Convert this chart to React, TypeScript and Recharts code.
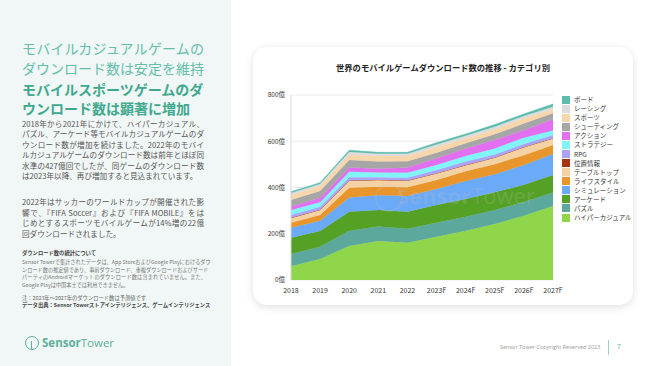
import React from 'react';
import { AreaChart, Area, XAxis, YAxis, CartesianGrid, Legend } from 'recharts';

const years = ['2018', '2019', '2020', '2021', '2022', '2023F', '2024F', '2025F', '2026F', '2027F'];
const yTicks = [0, 200, 400, 600, 800];

const hyperCasual = [60, 91, 147, 169, 161, 187, 213, 242, 278, 320];
const puzzle = [52, 53, 66, 62, 61, 61, 61, 61, 59, 58];
const arcade = [71, 68, 82, 72, 73, 76, 76, 76, 75, 76];
const simulation = [43, 44, 62, 63, 68, 69, 78, 78, 85, 91];
const lifestyle = [22, 25, 42, 37, 38, 39, 42, 44, 43, 39];
const tabletop = [20, 22, 30, 29, 28, 29, 26, 28, 34, 28];
const location = [1, 1, 1, 1, 1, 1, 1, 1, 1, 1];
const rpg = [12, 13, 14, 11, 12, 14, 15, 13, 13, 14];
const strategy = [22, 19, 24, 21, 22, 21, 24, 26, 27, 19];
const action = [14, 20, 18, 16, 22, 29, 33, 36, 33, 49];
const shooting = [29, 29, 33, 31, 27, 24, 22, 25, 29, 26];
const sports = [21, 23, 23, 24, 23, 24, 21, 21, 22, 17];
const racing = [9, 7, 11, 10, 10, 12, 12, 12, 10, 11];
const board = [6, 6, 8, 6, 6, 8, 7, 9, 9, 12];

const seriesDefs = [
  { key: 'hyper', name: 'ハイパーカジュアル', values: hyperCasual, color: '#8fd64a' },
  { key: 'puzzle', name: 'パズル', values: puzzle, color: '#5ca89c' },
  { key: 'arcade', name: 'アーケード', values: arcade, color: '#55a126' },
  { key: 'simulation', name: 'シミュレーション', values: simulation, color: '#6aaaf8' },
  { key: 'lifestyle', name: 'ライフスタイル', values: lifestyle, color: '#e8952c' },
  { key: 'tabletop', name: 'テーブルトップ', values: tabletop, color: '#f5d2a4' },
  { key: 'location', name: '位置情報', values: location, color: '#a8330f' },
  { key: 'rpg', name: 'RPG', values: rpg, color: '#aaa4f6' },
  { key: 'strategy', name: 'ストラテジー', values: strategy, color: '#80f4f6' },
  { key: 'action', name: 'アクション', values: action, color: '#e26ff0' },
  { key: 'shooting', name: 'シューティング', values: shooting, color: '#a6a6a6' },
  { key: 'sports', name: 'スポーツ', values: sports, color: '#f6d6aa' },
  { key: 'racing', name: 'レーシング', values: racing, color: '#dcdcdc' },
  { key: 'board', name: 'ボード', values: board, color: '#5ebcae' },
];

const data = years.map((y, i) => {
  const row: Record<string, string | number> = { year: y };
  seriesDefs.forEach((s) => {
    row[s.key] = s.values[i];
  });
  return row;
});

const FONT = '"Noto Sans CJK JP", "Noto Sans", sans-serif';

const orderOf = (name: string) => seriesDefs.findIndex((s) => s.name === name);

const renderLegend = (props: any) => {
  const items = [...(props.payload || [])].sort((a: any, b: any) => orderOf(b.value) - orderOf(a.value));
  return (
    <div style={{ fontFamily: FONT, fontSize: 6.5, color: '#333' }}>
      {items.map((it: any) => (
        <div key={it.value} style={{ display: 'flex', alignItems: 'center', height: 9.08 }}>
          <span style={{ display: 'inline-block', width: 8, height: 8, background: it.color, marginRight: 4 }} />
          <span style={{ lineHeight: '9px', whiteSpace: 'nowrap' }}>{it.value}</span>
        </div>
      ))}
    </div>
  );
};

const abs = (left: number, top: number, extra: React.CSSProperties = {}): React.CSSProperties => ({
  position: 'absolute',
  left,
  top,
  whiteSpace: 'nowrap',
  ...extra,
});

const para1 = [
  '2018年から2021年にかけて、ハイパーカジュアル、',
  'パズル、アーケード等モバイルカジュアルゲームのダ',
  'ウンロード数が増加を続けました。2022年のモバイ',
  'ルカジュアルゲームのダウンロード数は前年とほぼ同',
  '水準の427億回でしたが、同ゲームのダウンロード数',
  'は2023年以降、再び増加すると見込まれています。',
];
const para2 = [
  '2022年はサッカーのワールドカップが開催された影',
  '響で、『FIFA Soccer』および『FIFA MOBILE』をは',
  'じめとするスポーツモバイルゲームが14%増の22億',
  '回ダウンロードされました。',
];
const notes = [
  'Sensor Towerで集計されたデータは、App StoreおよびGoogle Playにおけるダウ',
  'ンロード数の推定値であり、事前ダウンロード、重複ダウンロードおよびサード',
  'パーティのAndroidマーケットのダウンロード数は含まれていません。また、',
  'Google Playは中国本土では利用できません。',
];

export default function App() {
  return (
    <div style={{ position: 'absolute', left: 0, top: 0, width: 650, height: 366, background: '#ffffff', overflow: 'hidden', fontFamily: FONT }}>
      {/* left panel */}
      <div style={{ position: 'absolute', left: 0, top: 0, width: 231, height: 366, background: '#f1f6f6' }} />

      {/* headline */}
      {['モバイルカジュアルゲームの', 'ダウンロード数は安定を維持'].map((t, i) => (
        <div key={t} style={abs(22, 48 + i * 19.7 - 8, { fontSize: 14, lineHeight: '16px', color: '#63bfa9', width: 182, textAlign: 'justify', textAlignLast: 'justify' })}>{t}</div>
      ))}
      {['モバイルスポーツゲームのダ', 'ウンロード数は顕著に増加'].map((t, i) => (
        <div key={t} style={abs(22, 88.5 + i * 19 - 8, { fontSize: 14, lineHeight: '16px', color: '#3fa98f', fontWeight: 700 })}>{t}</div>
      ))}

      {/* paragraph 1 */}
      {para1.map((t, i) => (
        <div key={t} style={abs(22, 123.5 + i * 10.5 - 5, { fontSize: 7.6, lineHeight: '10px', color: '#555', width: 182, textAlign: 'justify', textAlignLast: i < 5 ? 'justify' : 'auto' })}>{t}</div>
      ))}
      {para2.map((t, i) => (
        <div key={t} style={abs(22, 202 + i * 10.6 - 5, { fontSize: 7.6, lineHeight: '10px', color: '#555', width: 182, textAlign: 'justify', textAlignLast: i < 3 ? 'justify' : 'auto' })}>{t}</div>
      ))}

      {/* notes */}
      <div style={abs(22, 253.5 - 3.5, { fontSize: 5.3, lineHeight: '7px', color: '#444', fontWeight: 700 })}>ダウンロード数の統計について</div>
      {notes.map((t, i) => (
        <div key={t} style={abs(22, 261.5 + i * 7.5 - 3.5, { fontSize: 5.2, lineHeight: '7px', color: '#777', width: 184, textAlign: 'justify', textAlignLast: i < 3 ? 'justify' : 'auto' })}>{t}</div>
      ))}
      <div style={abs(22, 298.3 - 3.5, { fontSize: 5.3, lineHeight: '7px', color: '#666' })}>注：2023年～2027年のダウンロード数は予測値です</div>
      <div style={abs(22, 305.8 - 3.5, { fontSize: 5.3, lineHeight: '7px', color: '#444', fontWeight: 700 })}>データ出典：Sensor Towerストアインテリジェンス、ゲームインテリジェンス</div>

      {/* footer logo */}
      <div style={{ position: 'absolute', left: 25, top: 336, width: 12, height: 12, borderRadius: 7, border: '1.3px solid #5fb09c' }} />
      <div style={{ position: 'absolute', left: 31, top: 341, width: 1.3, height: 8, background: '#5fb09c' }} />
      <div style={abs(42, 335, { fontSize: 11.5, lineHeight: '16px', color: '#5fb09c', fontFamily: '"Open Sans", sans-serif' })}>
        <span style={{ fontWeight: 700 }}>Sensor</span>
        <span style={{ fontWeight: 400 }}>Tower</span>
      </div>
      <div style={abs(500, 344, { fontSize: 5.5, lineHeight: '7px', color: '#999', fontFamily: '"Open Sans", sans-serif' })}>Sensor Tower Copyright Reserved 2023</div>
      <div style={{ position: 'absolute', left: 608, top: 340, width: 1, height: 15, background: '#9fd0c4' }} />
      <div style={abs(617, 343, { fontSize: 6.5, lineHeight: '8px', color: '#5fb09c', fontFamily: '"Open Sans", sans-serif' })}>7</div>

      {/* card */}
      <div style={{ position: 'absolute', left: 253, top: 47, width: 380, height: 258, background: '#fff', borderRadius: 14, boxShadow: '0 2px 8px rgba(0,0,0,0.13)' }}>
        <div style={{ position: 'absolute', left: 0, top: 15, width: 380, textAlign: 'center', fontSize: 8.3, lineHeight: '10px', fontWeight: 700, color: '#222' }}>
          世界のモバイルゲームダウンロード数の推移 - カテゴリ別
        </div>
        <AreaChart
          width={380}
          height={258}
          data={data}
          margin={{ top: 48, right: 8, bottom: 7, left: 0 }}
          style={{ position: 'absolute', left: 0, top: 0 }}
        >
          <CartesianGrid vertical={false} stroke="#e6e6e6" strokeWidth={0.8} />
          <XAxis
            dataKey="year"
            axisLine={false}
            tickLine={false}
            height={18}
            tickMargin={2}
            interval={0}
            tick={{ fontSize: 7, fill: '#333', fontFamily: FONT }}
          />
          <YAxis
            domain={[0, 800]}
            ticks={yTicks}
            width={38}
            axisLine={{ stroke: '#d6d6d6' }}
            tickLine={false}
            tickMargin={0}
            tickFormatter={(v: number) => `${v}億`}
            tick={{ fontSize: 6.5, fill: '#333', fontFamily: FONT }}
          />
          <Legend
            layout="vertical"
            align="right"
            verticalAlign="top"
            width={72}
            content={renderLegend}
            wrapperStyle={{ left: 309, top: 48, width: 72 }}
          />
          {seriesDefs.map((s) => (
            <Area
              key={s.key}
              type="linear"
              dataKey={s.key}
              name={s.name}
              stackId="1"
              stroke={s.color}
              strokeWidth={0.6}
              fill={s.color}
              fillOpacity={1}
              isAnimationActive={false}
              dot={false}
              activeDot={false}
            />
          ))}
        </AreaChart>
        {/* watermark */}
        <div style={{ position: 'absolute', left: 122, top: 137, width: 24, height: 24, borderRadius: 14, border: '2px solid rgba(190,190,190,0.22)', pointerEvents: 'none' }} />
        <div style={{ position: 'absolute', left: 144, top: 133, fontSize: 22, lineHeight: '30px', color: 'rgba(190,190,190,0.22)', fontFamily: '"Open Sans", sans-serif', whiteSpace: 'nowrap', pointerEvents: 'none' }}>
          <span style={{ fontWeight: 700 }}>Sensor</span>Tower
        </div>
      </div>
    </div>
  );
}
